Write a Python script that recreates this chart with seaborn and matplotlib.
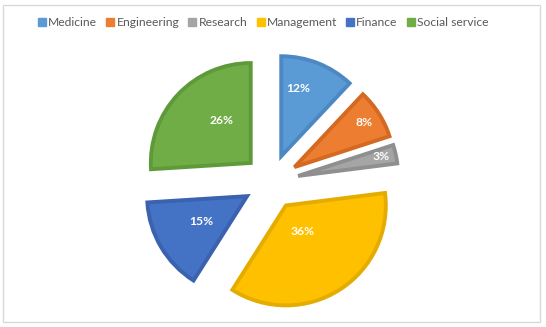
import matplotlib
matplotlib.use("Agg")
import matplotlib.pyplot as plt
from matplotlib.patches import Rectangle
from matplotlib.lines import Line2D
import numpy as np
import seaborn as sns

sns.set_theme(style="white")
plt.rcParams["font.family"] = ["Lato", "DejaVu Sans"]

# Career choice shares (percent)
categories = ["Medicine", "Engineering", "Research", "Management", "Finance", "Social service"]
shares = [12, 8, 3, 36, 15, 26]
fill_colors = ["#5B9BD5", "#ED7D31", "#A5A5A5", "#FFC000", "#4472C4", "#70AD47"]
edge_colors = ["#4C88C2", "#D46A22", "#8F8F8F", "#E5AC00", "#3A62AE", "#5F9A3A"]

# Label placement inside each slice: polar angle (deg) and distance from the slice tip
label_angle = [76, 33, 13, -57.6, 208.5, 124]
label_dist = [0.68, 0.80, 0.83, 0.30, 0.51, 0.50]

W, H = 546, 327
fig = plt.figure(figsize=(W / 100, H / 100), dpi=100)
ax = fig.add_axes([0, 0, 1, 1])

wedges, texts, autotexts = ax.pie(
    shares,
    colors=fill_colors,
    startangle=90,
    counterclock=False,
    explode=[0.27] * len(shares),
    radius=0.97,
    autopct=lambda p: f"{p:.0f}%",
    wedgeprops=dict(linewidth=2.8),
    textprops=dict(color="white", fontsize=8.7, fontweight="bold"),
)
for w, ec, t, a, d in zip(wedges, edge_colors, autotexts, label_angle, label_dist):
    w.set_edgecolor(ec)
    w.set_joinstyle("miter")
    x0, y0 = w.center
    t.set_position((x0 + d * np.cos(np.radians(a)), y0 + d * np.sin(np.radians(a))))

# 1 data unit = 103 px, pie centred at (271, 182) px from the top-left
scale = 103.0
cx, cy = 271.0, 182.0
ax.set_xlim(-cx / scale, (W - cx) / scale)
ax.set_ylim(-(H - cy) / scale, cy / scale)
ax.set_aspect("equal", adjustable="box")
ax.axis("off")

# Chart area frame
fig.patches.append(Rectangle((3 / W, 1 - 322 / H), 537 / W, 317 / H,
                             transform=fig.transFigure, fill=False,
                             edgecolor="#D9D9D9", linewidth=1.0))

handles = [Line2D([0], [0], marker="s", linestyle="none", markersize=6,
                  markerfacecolor=c, markeredgecolor=c) for c in fill_colors]
fig.legend(handles, categories, loc="center", bbox_to_anchor=(0.482, 1 - 23 / H),
           ncol=6, frameon=False, fontsize=8.7, handlelength=0.7, handletextpad=0.15,
           columnspacing=0.75, labelcolor="#595959", borderpad=0)

fig.savefig("out.png", dpi=100, facecolor="white")
